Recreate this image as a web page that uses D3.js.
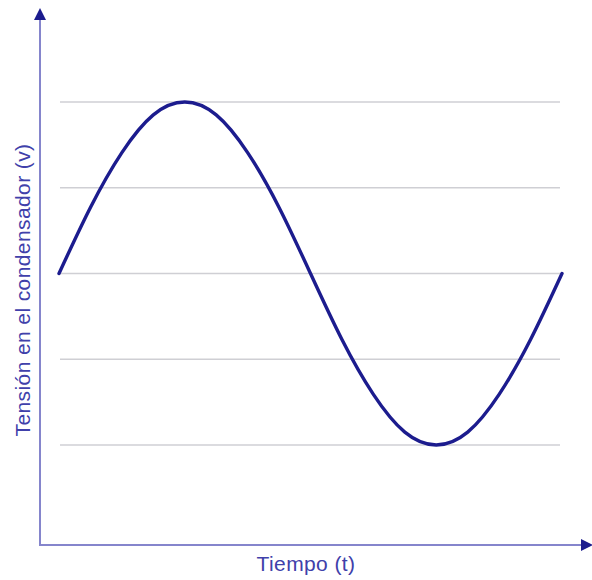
<!DOCTYPE html>
<html>
<head>
<meta charset="utf-8">
<script src="https://cdn.jsdelivr.net/npm/d3@7"></script>
<style>
  body { margin: 0; background: #fff; }
  svg { display: block; }
</style>
</head>
<body>
<svg id="chart" width="592" height="580"></svg>
<script>

// time, as fraction of one period
var tiempo = [0, 0.0625, 0.125, 0.1875, 0.25, 0.3125, 0.375, 0.4375, 0.5,
  0.5625, 0.625, 0.6875, 0.75, 0.8125, 0.875, 0.9375, 1];
// voltage, in grid steps
var tension = [0, 0.77, 1.41, 1.85, 2, 1.85, 1.41, 0.77, 0,
  -0.77, -1.41, -1.85, -2, -1.85, -1.41, -0.77, 0];
var gridLevels = [-2, -1, 0, 1, 2];

var xLabel = "Tiempo (t)";
var yLabel = "Tensión en el condensador (v)";

var svg = d3.select("#chart");

var x = d3.scaleLinear().domain([0, 1]).range([59, 562]);
var y = d3.scaleLinear().domain([-2, 2]).range([445, 102]);

var axisColor = "#8585cc";
var darkBlue = "#1c1c8e";
var textColor = "#4040aa";

// grid lines
svg.append("g")
  .selectAll("line")
  .data(gridLevels)
  .join("line")
  .attr("x1", 60)
  .attr("x2", 560)
  .attr("y1", d => y(d))
  .attr("y2", d => y(d))
  .style("stroke", "#cfcfd4")
  .style("stroke-width", 1.5);

// axes
svg.append("line")
  .attr("x1", 40).attr("y1", 545)
  .attr("x2", 40).attr("y2", 18)
  .style("stroke", axisColor)
  .style("stroke-width", 2);

svg.append("line")
  .attr("x1", 39).attr("y1", 545)
  .attr("x2", 582).attr("y2", 545)
  .style("stroke", axisColor)
  .style("stroke-width", 2);

svg.append("path")
  .attr("d", "M40,8 L34,20 L46,20 Z")
  .style("fill", darkBlue);

svg.append("path")
  .attr("d", "M593,545 L581,539 L581,551 Z")
  .style("fill", darkBlue);

// curve
var line = d3.line()
  .x((d, i) => x(tiempo[i]))
  .y(d => y(d))
  .curve(d3.curveNatural);

svg.append("path")
  .datum(tension)
  .attr("d", line)
  .style("fill", "none")
  .style("stroke", darkBlue)
  .style("stroke-width", 3.4)
  .style("stroke-linecap", "round");

// labels
svg.append("text")
  .text(xLabel)
  .attr("x", 306)
  .attr("y", 571)
  .style("fill", textColor)
  .style("font-size", 21)
  .style("letter-spacing", "0.4px")
  .style("font-family", "Liberation Sans, Arial, sans-serif")
  .style("text-anchor", "middle");

svg.append("text")
  .text(yLabel)
  .attr("transform", "translate(30, 290) rotate(-90)")
  .style("fill", textColor)
  .style("font-size", 21)
  .style("letter-spacing", "0.4px")
  .style("font-family", "Liberation Sans, Arial, sans-serif")
  .style("text-anchor", "middle");

</script>
</body>
</html>
